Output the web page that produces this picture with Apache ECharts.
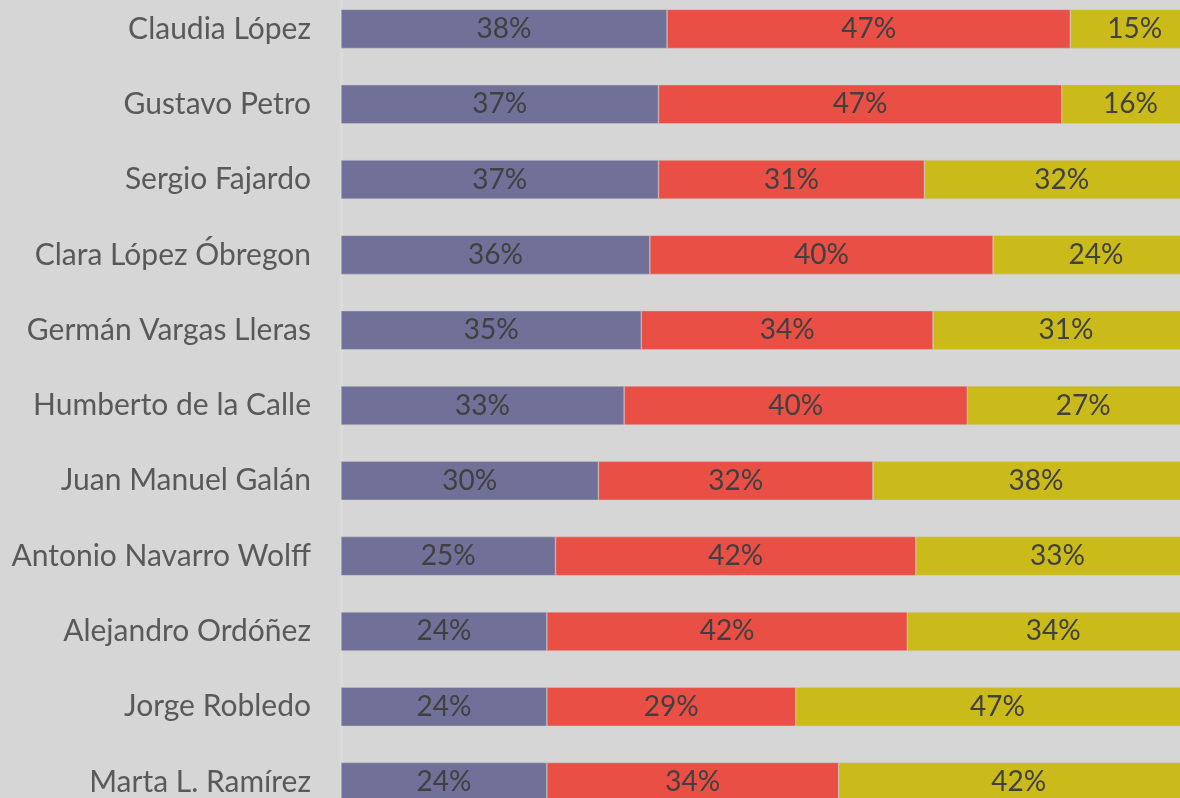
<!DOCTYPE html>
<html>
<head>
<meta charset="utf-8">
<script src="https://cdn.jsdelivr.net/npm/echarts@6/dist/echarts.min.js"></script>
<style>
  html, body { margin: 0; padding: 0; background: #d6d6d6; }
  #chart { width: 1180px; height: 798px; }
</style>
</head>
<body>
<div id="chart"></div>
<script>
  // candidatos, de arriba hacia abajo
  const candidatos = [
    'Claudia López', 'Gustavo Petro', 'Sergio Fajardo', 'Clara López Óbregon',
    'Germán Vargas Lleras', 'Humberto de la Calle', 'Juan Manuel Galán',
    'Antonio Navarro Wolff', 'Alejandro Ordóñez', 'Jorge Robledo', 'Marta L. Ramírez'
  ]
  const serieA = [38, 37, 37, 36, 35, 33, 30, 25, 24, 24, 24]
  const serieB = [47, 47, 31, 40, 34, 40, 32, 42, 42, 29, 34]
  const serieC = [15, 16, 32, 24, 31, 27, 38, 33, 34, 47, 42]
  const colores = ['#707098', '#e94f45', '#cbbb1a']

  const chart = echarts.init(document.getElementById('chart'))

  function serie(name, data, color) {
    return {
      name: name,
      type: 'bar',
      stack: 'total',
      barWidth: 39,
      data: data,
      itemStyle: { color: color, borderColor: '#c8c8c8', borderWidth: 0.5 },
      label: {
        show: true,
        position: 'inside',
        formatter: '{c}%',
        color: '#404040',
        fontFamily: 'Lato',
        fontSize: 28
      },
      emphasis: { disabled: true }
    }
  }

  const option = {
    backgroundColor: '#d6d6d6',
    animation: false,
    // el gráfico original está recortado a la derecha y abajo
    grid: {
      left: 341, right: -19, top: -8.7, bottom: -21.7,
      containLabel: false,
      outerBoundsMode: 'none'
    },
    xAxis: {
      type: 'value',
      min: 0,
      max: 100,
      show: false
    },
    yAxis: {
      type: 'category',
      inverse: true,
      data: candidatos,
      axisLine: { show: true, lineStyle: { color: '#dcdcdc', width: 3 } },
      axisTick: { show: false },
      axisLabel: {
        color: '#595959',
        fontFamily: 'Lato',
        fontSize: 30,
        margin: 30
      }
    },
    series: [
      serie('A', serieA, colores[0]),
      serie('B', serieB, colores[1]),
      serie('C', serieC, colores[2])
    ]
  }

  chart.setOption(option)
  window.addEventListener('resize', () => {
    chart.resize()
  })
</script>
</body>
</html>
